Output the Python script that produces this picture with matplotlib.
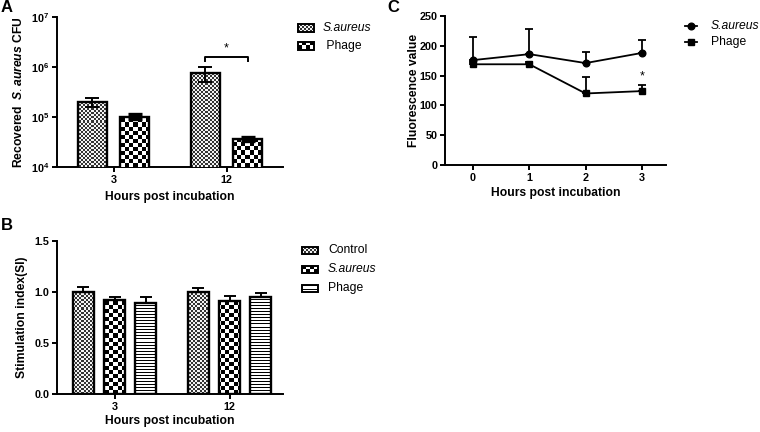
import numpy as np
import matplotlib
matplotlib.use('Agg')
import matplotlib.pyplot as plt
from matplotlib.lines import Line2D
from matplotlib.patches import Rectangle

plt.rcParams['font.family'] = ['Liberation Sans', 'DejaVu Sans']
plt.rcParams['mathtext.fontset'] = 'custom'
plt.rcParams['mathtext.rm'] = 'Liberation Sans'
plt.rcParams['mathtext.bf'] = 'Liberation Sans:bold'
plt.rcParams['mathtext.it'] = 'Liberation Sans:italic:bold'

# A - recovered S. aureus CFU (log scale)
a_groups = ['3', '12']
a_saureus = [2.02e5, 7.5e5]
a_saureus_err = [0.41e5, 2.6e5]
a_phage = [1.02e5, 3.65e4]
a_phage_err = [0.12e5, 0.35e4]
a_yticks = [1e4, 1e5, 1e6, 1e7]
a_yticklabels = [r'$\mathbf{10^{4}}$', r'$\mathbf{10^{5}}$',
                 r'$\mathbf{10^{6}}$', r'$\mathbf{10^{7}}$']

# B - stimulation index
b_groups = ['3', '12']
b_control = [1.00, 1.00]
b_control_err = [0.045, 0.035]
b_saureus = [0.92, 0.91]
b_saureus_err = [0.035, 0.05]
b_phage = [0.89, 0.95]
b_phage_err = [0.065, 0.04]
b_yticks = [0.0, 0.5, 1.0, 1.5]
b_yticklabels = ['0.0', '0.5', '1.0', '1.5']

# C - fluorescence over time
c_hours = [0, 1, 2, 3]
c_saureus = [176, 186, 171, 188]
c_saureus_err = [38, 42, 19, 21]
c_phage = [169, 169, 120, 124]
c_phage_err = [4, 4, 28, 10]
c_yticks = [0, 50, 100, 150, 200, 250]

W, H = 760, 432
LW = 1.4


def fx(px):
    return px / W


def fy(py):
    return 1 - py / H


# fill textures (cell size in pixels)
CELL = {'fine': 2, 'coarse': 4, 'stripes': 1}


def pattern(kind, nx, ny):
    i, j = np.indices((ny, nx))
    if kind == 'fine':
        return np.where((i + j) % 2 == 0, 0.2, 0.95)
    if kind == 'coarse':
        return np.where((i + j) % 2 == 0, 0.0, 1.0)
    return np.where(i % 3 == 0, 0.0, 1.0)


def fill_pattern(ax, patch, kind):
    cell = CELL[kind]
    w, h = ax.bbox.width, ax.bbox.height
    nx, ny = int(w // cell) + 1, int(h // cell) + 1
    im = ax.imshow(pattern(kind, nx, ny), cmap='gray', vmin=0, vmax=1,
                   extent=(0, nx * cell / w, 0, ny * cell / h),
                   transform=ax.transAxes, interpolation='nearest',
                   aspect='auto', zorder=patch.get_zorder() - 0.1)
    im.set_clip_path(patch)


def style_axes(ax):
    for s in ['top', 'right']:
        ax.spines[s].set_visible(False)
    for s in ['left', 'bottom']:
        ax.spines[s].set_linewidth(LW)
    ax.tick_params(width=LW, length=3.5, pad=2, labelsize=7.8)


def bold_ticks(ax):
    for lab in ax.get_xticklabels() + ax.get_yticklabels():
        lab.set_fontweight('bold')


def swatch(fig, kind, x, y, w=16, h=8):
    sa = fig.add_axes([fx(x), fy(y + h / 2), w / W, h / H])
    sa.set_axis_off()
    sa.set_xlim(0, 1)
    sa.set_ylim(0, 1)
    r = Rectangle((0, 0), 1, 1, transform=sa.transAxes, facecolor='none',
                  edgecolor='black', linewidth=1.4, clip_on=False, zorder=3)
    sa.add_patch(r)
    fill_pattern(sa, r, kind)


fig = plt.figure(figsize=(W / 100, H / 100), dpi=100)

# ---------------- panel A ----------------
axA = fig.add_axes([fx(57), fy(167), 226 / W, 150 / H])
axA.set_yscale('log')
a_x = np.arange(len(a_groups))
a_w, a_off = 0.257, 0.186
barsA1 = axA.bar(a_x - a_off, a_saureus, a_w, facecolor='none', edgecolor='black', linewidth=1.7, zorder=3)
barsA2 = axA.bar(a_x + a_off, a_phage, a_w, facecolor='none', edgecolor='black', linewidth=1.7, zorder=3)
axA.errorbar(a_x - a_off, a_saureus, yerr=a_saureus_err, fmt='none', ecolor='black',
             elinewidth=1.4, capsize=5, capthick=1.4, zorder=4)
axA.errorbar(a_x + a_off, a_phage, yerr=a_phage_err, fmt='none', ecolor='black',
             elinewidth=1.4, capsize=5, capthick=2.4, zorder=4)
axA.set_xlim(-0.5, 1.5)
axA.set_ylim(1e4, 1e7)
axA.set_xticks(a_x, a_groups)
axA.set_yticks(a_yticks, a_yticklabels)
axA.yaxis.set_minor_locator(matplotlib.ticker.NullLocator())
style_axes(axA)
bold_ticks(axA)
for p in barsA1:
    fill_pattern(axA, p, 'fine')
for p in barsA2:
    fill_pattern(axA, p, 'coarse')
# significance bracket at 12 h
sig_hi, sig_lo, star_y = 1.58e6, 1.3e6, 2.3e6
axA.plot([a_x[1] - a_off, a_x[1] - a_off, a_x[1] + a_off, a_x[1] + a_off],
         [sig_lo, sig_hi, sig_hi, sig_lo], color='black', lw=1.4, zorder=4)
axA.text(a_x[1], star_y, '*', ha='center', va='center', fontsize=9)
axA.set_xlabel('Hours post incubation', fontsize=8.7, fontweight='bold')
axA.set_ylabel(r'Recovered  $\mathit{S.aureus}$ CFU', fontsize=8.7, fontweight='bold')
axA.xaxis.set_label_coords(0.5, -0.16)
axA.yaxis.set_label_coords(-0.142, 0.5)

swatch(fig, 'fine', 298, 28)
swatch(fig, 'coarse', 298, 45.5)
fig.text(fx(323), fy(28), 'S.aureus', style='italic', fontsize=8.7, va='center')
fig.text(fx(323), fy(45.5), ' Phage', fontsize=8.7, va='center')

# ---------------- panel B ----------------
axB = fig.add_axes([fx(57), fy(394.3), 226 / W, 153.6 / H])
b_x = np.arange(len(b_groups))
b_w, b_off = 0.187, 0.27
b_series = [(b_control, b_control_err, 'fine'),
            (b_saureus, b_saureus_err, 'coarse'),
            (b_phage, b_phage_err, 'stripes')]
b_bars = []
for k, (vals, errs, kind) in enumerate(b_series):
    xs = b_x + (k - 1) * b_off
    bars = axB.bar(xs, vals, b_w, facecolor='none', edgecolor='black', linewidth=1.7, zorder=3)
    axB.errorbar(xs, vals, yerr=[np.zeros(len(vals)), errs], fmt='none', ecolor='black',
                 elinewidth=1.4, capsize=4, capthick=1.4, zorder=4)
    b_bars.append((bars, kind))
axB.set_xlim(-0.5, 1.465)
axB.set_ylim(0, 1.5)
axB.set_xticks(b_x, b_groups)
axB.set_yticks(b_yticks, b_yticklabels)
style_axes(axB)
bold_ticks(axB)
for bars, kind in b_bars:
    for p in bars:
        fill_pattern(axB, p, kind)
axB.set_xlabel('Hours post incubation', fontsize=8.7, fontweight='bold')
axB.set_ylabel('Stimulation index(SI)', fontsize=8.7, fontweight='bold')
axB.xaxis.set_label_coords(0.5, -0.135)
axB.yaxis.set_label_coords(-0.128, 0.5)

swatch(fig, 'fine', 302, 250, h=7)
swatch(fig, 'coarse', 302, 269, h=7)
swatch(fig, 'stripes', 302, 288, h=7)
fig.text(fx(328), fy(250), 'Control', fontsize=8.7, va='center')
fig.text(fx(328), fy(269), 'S.aureus', style='italic', fontsize=8.7, va='center')
fig.text(fx(328), fy(288), 'Phage', fontsize=8.7, va='center')

# ---------------- panel C ----------------
axC = fig.add_axes([fx(445), fy(165), 221 / W, 149 / H])
zero = np.zeros(len(c_hours))
axC.errorbar(c_hours, c_saureus, yerr=[zero, c_saureus_err], color='black', lw=1.3,
             marker='o', ms=4.8, elinewidth=1.3, capsize=3, capthick=1.3, zorder=3)
axC.errorbar(c_hours, c_phage, yerr=[zero, c_phage_err], color='black', lw=1.3,
             marker='s', ms=4.8, elinewidth=1.3, capsize=3, capthick=1.3, zorder=3)
axC.text(c_hours[3], 148, '*', ha='center', va='center', fontsize=9)
axC.set_xlim(-0.5, 3.43)
axC.set_ylim(0, 250)
axC.set_xticks(c_hours)
axC.set_yticks(c_yticks)
style_axes(axC)
bold_ticks(axC)
axC.set_xlabel('Hours post incubation', fontsize=8.7, fontweight='bold')
axC.set_ylabel('Fluorescence value', fontsize=8.7, fontweight='bold')
axC.xaxis.set_label_coords(0.5, -0.15)
axC.yaxis.set_label_coords(-0.113, 0.5)

for yy, mk, name, st in [(26, 'o', 'S.aureus', 'italic'), (42, 's', 'Phage', 'normal')]:
    fig.add_artist(Line2D([fx(685), fx(691), fx(697)], [fy(yy)] * 3, transform=fig.transFigure,
                          color='black', lw=1.3, marker=mk, ms=4.8, markevery=[1]))
    fig.text(fx(711), fy(yy), name, style=st, fontsize=8.7, va='center')

# panel letters
fig.text(fx(7), fy(8), 'A', fontsize=12, fontweight='bold', ha='center', va='center')
fig.text(fx(7), fy(226), 'B', fontsize=12, fontweight='bold', ha='center', va='center')
fig.text(fx(393), fy(8), 'C', fontsize=12, fontweight='bold', ha='center', va='center')

fig.savefig('out.png', dpi=100)
